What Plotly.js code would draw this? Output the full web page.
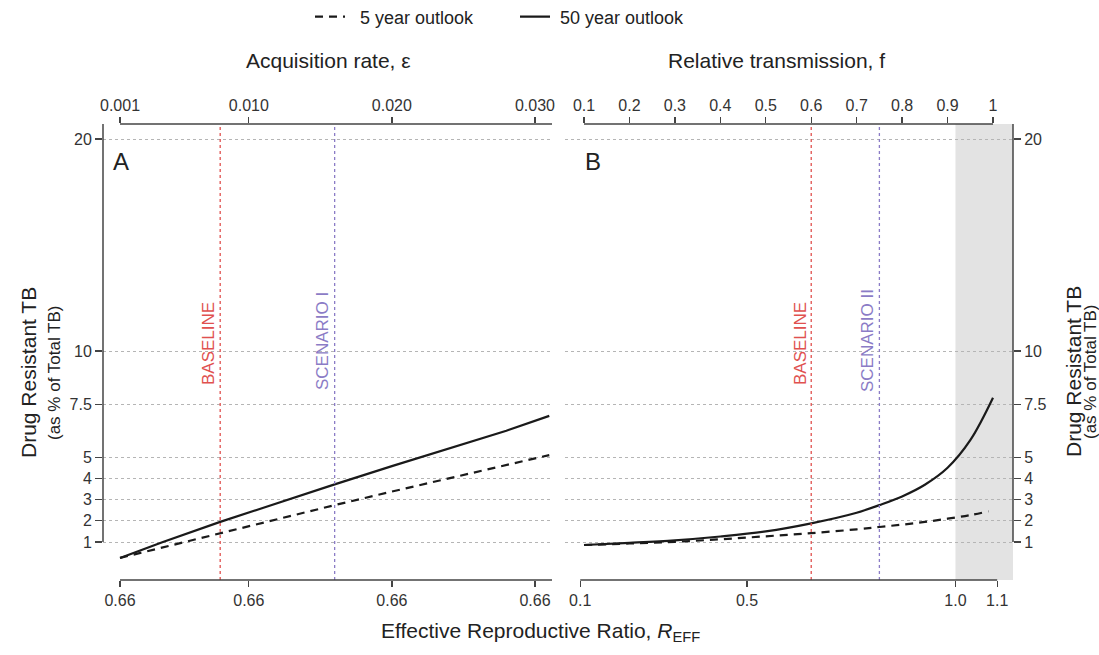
<!DOCTYPE html>
<html>
<head>
<meta charset="utf-8">
<script src="https://cdn.plot.ly/plotly-3.0.1.min.js"></script>
<style>html,body{margin:0;padding:0;background:#fff;}#chart{width:1099px;height:655px;}</style>
</head>
<body>
<div id="chart"></div>
<script>
// ---- data ----
const epsA = [0.001, 0.004, 0.008, 0.012, 0.016, 0.020, 0.024, 0.028, 0.031];
const drA50 = [0.25, 1.0, 1.95, 2.85, 3.72, 4.58, 5.42, 6.25, 6.95];
const drA5  = [0.25, 0.75, 1.42, 2.08, 2.74, 3.38, 4.0, 4.6, 5.1];

const fB50 = [0.1, 0.2, 0.3, 0.4, 0.5, 0.6, 0.7, 0.75, 0.8, 0.85, 0.9, 0.95, 1.0];
const drB50 = [0.86, 0.96, 1.08, 1.26, 1.5, 1.88, 2.38, 2.74, 3.15, 3.7, 4.5, 5.8, 7.8];
const fB5 = [0.1, 0.2, 0.3, 0.4, 0.5, 0.6, 0.7, 0.75, 0.8, 0.85, 0.9, 0.95, 0.99];
const drB5 = [0.86, 0.93, 1.01, 1.13, 1.27, 1.42, 1.6, 1.71, 1.82, 1.95, 2.1, 2.27, 2.45];

const seriesNames = ['5 year outlook', '50 year outlook'];
const yTicks = [1, 2, 3, 4, 5, 7.5, 10, 20];
const yTickText = ['1', '2', '3', '4', '5', '7.5', '10', '20'];
const epsTicks = [0.001, 0.010, 0.020, 0.030];
const epsTickText = ['0.001', '0.010', '0.020', '0.030'];
const reffTicksA = [0.001, 0.010, 0.020, 0.030];
const reffTextA = ['0.66', '0.66', '0.66', '0.66'];
const fTicks = [0.1, 0.2, 0.3, 0.4, 0.5, 0.6, 0.7, 0.8, 0.9, 1];
const fTickText = ['0.1', '0.2', '0.3', '0.4', '0.5', '0.6', '0.7', '0.8', '0.9', '1'];
const reffTicksB = [0.1, 0.5, 1.0, 1.1];
const reffTextB = ['0.1', '0.5', '1.0', '1.1'];

const baselineEps = 0.008, scenarioEps = 0.016;
const baselineF = 0.6, scenarioF = 0.75;
const reffThreshold = 1.0;

// ---- layout geometry ----
const W = 1099, H = 655;
const mL = 103, mR = 86, mT = 124, mB = 75;
const pw = W - mL - mR, ph = H - mT - mB;
const px = x => (x - mL) / pw;
const py = y => (H - mB - y) / ph;

const yRange = [-0.79, 20.71];
const xRangeA = [-0.00019, 0.03119];
const xRangeB = [0.0582, 1.044];
const rRatio = 1.09;
const xRangeB4 = [xRangeB[0] * rRatio, xRangeB[1] * rRatio];

const FONT = 'Liberation Sans, Arial, sans-serif';
const TXT = '#222';
const RED = '#e0514f';
const PURPLE = '#8b7cc6';

const dashSty = {color: '#1a1a1a', width: 2.2, dash: '8px,6px'};
const solidSty = {color: '#1a1a1a', width: 2.2};

const traces = [
  {x: epsA, y: drA5, xaxis: 'x', yaxis: 'y', mode: 'lines', line: dashSty, name: '\u00a0\u00a0' + seriesNames[0]},
  {x: epsA, y: drA50, xaxis: 'x', yaxis: 'y', mode: 'lines', line: solidSty, name: '\u00a0' + seriesNames[1]},
  {x: fB5, y: drB5, xaxis: 'x2', yaxis: 'y2', mode: 'lines', line: Object.assign({shape: 'spline'}, dashSty), showlegend: false},
  {x: fB50, y: drB50, xaxis: 'x2', yaxis: 'y2', mode: 'lines', line: Object.assign({shape: 'spline'}, solidSty), showlegend: false}
];

const domA = [0, px(552)];
const domB = [px(565), 1];

const tickFont = {family: FONT, size: 16, color: '#333'};
const baseAx = {showline: false, zeroline: false, showgrid: false, automargin: false, ticks: 'outside', ticklen: 6, tickwidth: 1.3, tickcolor: '#444', tickfont: tickFont, fixedrange: true};

const layout = {
  width: W, height: H,
  margin: {l: mL, r: mR, t: mT, b: mB, autoexpand: false},
  paper_bgcolor: '#fff', plot_bgcolor: 'rgba(0,0,0,0)',
  font: {family: FONT, color: TXT},
  showlegend: true,
  legend: {orientation: 'h', x: px(515), xanchor: 'center', y: py(17), yanchor: 'middle',
           font: {family: FONT, size: 18, color: TXT}, traceorder: 'normal', entrywidth: 160, entrywidthmode: 'pixels',
           bgcolor: 'rgba(0,0,0,0)'},
  xaxis: Object.assign({}, baseAx, {domain: domA, range: xRangeA, side: 'top', anchor: 'y', tickvals: epsTicks, ticktext: epsTickText}),
  xaxis3: Object.assign({}, baseAx, {domain: domA, range: xRangeA, side: 'bottom', overlaying: 'x', anchor: 'y', tickvals: reffTicksA, ticktext: reffTextA}),
  xaxis2: Object.assign({}, baseAx, {domain: domB, range: xRangeB, side: 'top', anchor: 'y2', tickvals: fTicks, ticktext: fTickText}),
  xaxis4: Object.assign({}, baseAx, {domain: domB, range: xRangeB4, side: 'bottom', overlaying: 'x2', anchor: 'y2', tickvals: reffTicksB, ticktext: reffTextB}),
  yaxis: Object.assign({}, baseAx, {domain: [0, 1], range: yRange, anchor: 'x', side: 'left', tickvals: yTicks, ticktext: yTickText,
           showgrid: true, gridcolor: '#b5b5b5', gridwidth: 1, griddash: 'dot', ticklen: 7}),
  yaxis2: Object.assign({}, baseAx, {domain: [0, 1], range: yRange, anchor: 'x2', side: 'right', tickvals: yTicks, ticktext: yTickText,
           showgrid: true, gridcolor: '#b5b5b5', gridwidth: 1, griddash: 'dot', ticklen: 7}),
  shapes: [
    {type: 'rect', xref: 'x4', yref: 'paper', x0: reffThreshold, x1: xRangeB4[1], y0: 0, y1: 1, fillcolor: '#e3e3e3', line: {width: 0}, layer: 'below'},
    {type: 'line', xref: 'x', yref: 'paper', x0: baselineEps, x1: baselineEps, y0: 0, y1: 1, line: {color: RED, width: 1.3, dash: '3px,3px'}},
    {type: 'line', xref: 'x', yref: 'paper', x0: scenarioEps, x1: scenarioEps, y0: 0, y1: 1, line: {color: PURPLE, width: 1.3, dash: '3px,3px'}},
    {type: 'line', xref: 'x2', yref: 'paper', x0: baselineF, x1: baselineF, y0: 0, y1: 1, line: {color: RED, width: 1.3, dash: '3px,3px'}},
    {type: 'line', xref: 'x2', yref: 'paper', x0: scenarioF, x1: scenarioF, y0: 0, y1: 1, line: {color: PURPLE, width: 1.3, dash: '3px,3px'}},
    {type: 'line', xref: 'x', yref: 'paper', x0: epsTicks[0], x1: xRangeA[1], y0: 1, y1: 1, line: {color: '#444', width: 1.5}},
    {type: 'line', xref: 'x3', yref: 'paper', x0: reffTicksA[0], x1: xRangeA[1], y0: 0, y1: 0, line: {color: '#444', width: 1.5}},
    {type: 'line', xref: 'x2', yref: 'paper', x0: fTicks[0], x1: fTicks[fTicks.length - 1], y0: 1, y1: 1, line: {color: '#444', width: 1.5}},
    {type: 'line', xref: 'x4', yref: 'paper', x0: reffTicksB[0], x1: reffTicksB[reffTicksB.length - 1], y0: 0, y1: 0, line: {color: '#444', width: 1.5}},
    {type: 'line', xref: 'paper', yref: 'y', x0: 0, x1: 0, y0: yTicks[0], y1: yRange[1], line: {color: '#444', width: 1.5}},
    {type: 'line', xref: 'paper', yref: 'y2', x0: 1, x1: 1, y0: yTicks[0], y1: yRange[1], line: {color: '#444', width: 1.5}}
  ],
  annotations: [
    {text: 'Acquisition rate, ε', xref: 'paper', yref: 'paper', x: px(328), y: py(60), showarrow: false, xanchor: 'center', yanchor: 'middle', font: {size: 21, color: TXT}},
    {text: 'Relative transmission, f', xref: 'paper', yref: 'paper', x: px(776), y: py(60), showarrow: false, xanchor: 'center', yanchor: 'middle', font: {size: 21, color: TXT}},
    {text: 'Effective Reproductive Ratio, <i>R</i><sub>EFF</sub>', xref: 'paper', yref: 'paper', x: px(540), y: py(632), showarrow: false, xanchor: 'center', yanchor: 'middle', font: {size: 21, color: TXT}},
    {text: 'A', xref: 'paper', yref: 'paper', x: px(121), y: py(161), showarrow: false, xanchor: 'center', yanchor: 'middle', font: {size: 24, color: TXT}},
    {text: 'B', xref: 'paper', yref: 'paper', x: px(593), y: py(161), showarrow: false, xanchor: 'center', yanchor: 'middle', font: {size: 24, color: TXT}},
    {text: 'Drug Resistant TB', xref: 'paper', yref: 'paper', x: px(28), y: py(373), textangle: -90, showarrow: false, xanchor: 'center', yanchor: 'middle', font: {size: 21, color: TXT}},
    {text: '(as % of Total TB)', xref: 'paper', yref: 'paper', x: px(54), y: py(373), textangle: -90, showarrow: false, xanchor: 'center', yanchor: 'middle', font: {size: 17, color: TXT}},
    {text: 'Drug Resistant TB', xref: 'paper', yref: 'paper', x: px(1073), y: py(372), textangle: -90, showarrow: false, xanchor: 'center', yanchor: 'middle', font: {size: 21, color: TXT}},
    {text: '(as % of Total TB)', xref: 'paper', yref: 'paper', x: px(1090), y: py(372), textangle: -90, showarrow: false, xanchor: 'center', yanchor: 'middle', font: {size: 17, color: TXT}},
    {text: 'BASELINE', xref: 'paper', yref: 'paper', x: px(208), y: py(344), textangle: -90, showarrow: false, xanchor: 'center', yanchor: 'middle', font: {size: 17, color: RED}},
    {text: 'SCENARIO I', xref: 'paper', yref: 'paper', x: px(322), y: py(341), textangle: -90, showarrow: false, xanchor: 'center', yanchor: 'middle', font: {size: 17, color: PURPLE}},
    {text: 'BASELINE', xref: 'paper', yref: 'paper', x: px(800), y: py(344), textangle: -90, showarrow: false, xanchor: 'center', yanchor: 'middle', font: {size: 17, color: RED}},
    {text: 'SCENARIO II', xref: 'paper', yref: 'paper', x: px(867), y: py(341), textangle: -90, showarrow: false, xanchor: 'center', yanchor: 'middle', font: {size: 17, color: PURPLE}}
  ]
};

Plotly.newPlot('chart', traces, layout, {displayModeBar: false, staticPlot: true});
</script>
</body>
</html>
